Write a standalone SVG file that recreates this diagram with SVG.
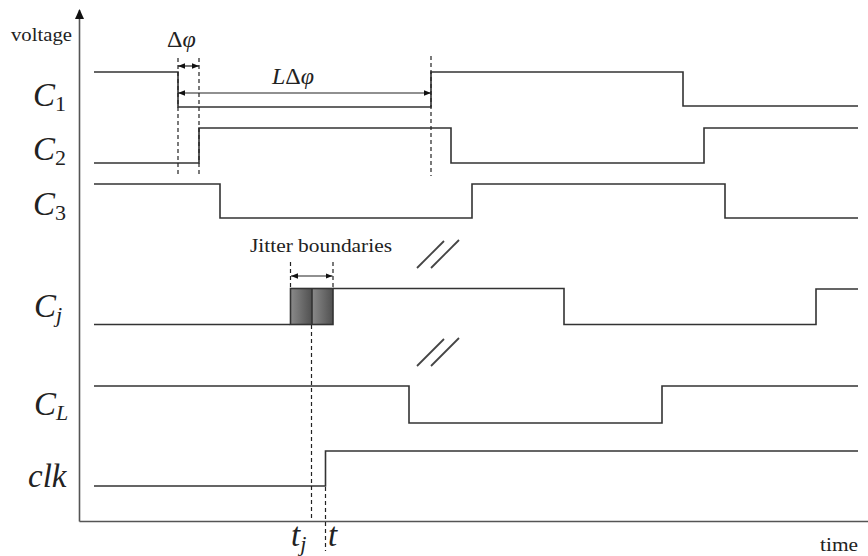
<svg xmlns="http://www.w3.org/2000/svg" width="868" height="556" viewBox="0 0 868 556">
<style>
.w{fill:none;stroke:#333;stroke-width:1.6}
.ax{fill:none;stroke:#555;stroke-width:1.6}
.d{fill:none;stroke:#222;stroke-width:1.2;stroke-dasharray:4,3}
.a{fill:none;stroke:#222;stroke-width:1.2}
.h{fill:none;stroke:#444;stroke-width:1.8}
.lbl{font-family:"Liberation Serif",serif;font-style:italic;font-size:33px;fill:#222}
.sub{font-style:normal;font-size:22px}
.subi{font-style:italic;font-size:22px}
.txt{font-family:"Liberation Serif",serif;font-size:18px;fill:#222}
.m{font-family:"Liberation Serif",serif;font-size:24px;fill:#222}
</style>
<defs>
<marker id="ah" viewBox="0 0 10 10" refX="10" refY="5" markerWidth="7" markerHeight="7" orient="auto-start-reverse" markerUnits="userSpaceOnUse">
<path d="M0,1 L10,5 L0,9 Z" fill="#111"/>
</marker>
<linearGradient id="g" x1="0" y1="0" x2="1" y2="0">
<stop offset="0" stop-color="#8a8a8a"/>
<stop offset="1" stop-color="#505050"/>
</linearGradient>
</defs>

<g id="axes">
<line class="ax" x1="79.5" y1="521.5" x2="79.5" y2="10"/>
<path d="M75,19 L79.5,9 L84,19 Z" fill="#111"/>
<line class="ax" x1="79.5" y1="521.5" x2="868" y2="521.5"/>
<text class="txt" x="11" y="41" textLength="61" lengthAdjust="spacingAndGlyphs">voltage</text>
<text class="txt" x="820" y="551" textLength="38" lengthAdjust="spacingAndGlyphs">time</text>
</g>

<g id="labels">
<text class="lbl" x="33" y="106">C<tspan class="sub" dy="5">1</tspan></text>
<text class="lbl" x="33" y="160">C<tspan class="sub" dy="5">2</tspan></text>
<text class="lbl" x="33" y="215">C<tspan class="sub" dy="5">3</tspan></text>
<text class="lbl" x="34" y="317">C<tspan class="subi" dy="5">j</tspan></text>
<text class="lbl" x="34" y="415">C<tspan class="subi" dy="5">L</tspan></text>
<text class="lbl" x="28" y="487">clk</text>
</g>

<g id="C1">
<polyline class="w" points="94,72 178,72 178,107 431,107 431,72 683,72 683,106 858,106"/>
</g>
<g id="C2">
<polyline class="w" points="94,163 199,163 199,128 451,128 451,163 704,163 704,128 858,128"/>
</g>
<g id="C3">
<polyline class="w" points="94,184 220,184 220,218 472,218 472,184 725,184 725,218 858,218"/>
</g>
<g id="Cj">
<polyline class="w" points="94,324.5 290,324.5"/>
<rect x="290.5" y="288.5" width="21.5" height="36" fill="url(#g)"/>
<rect x="312" y="288.5" width="21" height="36" fill="url(#g)"/>
<rect x="290.5" y="288.5" width="42.5" height="36" class="w"/>
<line class="w" x1="312" y1="288.5" x2="312" y2="324.5"/>
<polyline class="w" points="333,288.5 564,288.5 564,324.5 816,324.5 816,289 858,289"/>
</g>
<g id="CL">
<polyline class="w" points="94,386 409,386 409,423 662,423 662,386 858,386"/>
</g>
<g id="clk">
<polyline class="w" points="94,486 325.5,486 325.5,451 858,451"/>
</g>

<g id="connectors">
<line class="d" x1="178" y1="58" x2="178" y2="176"/>
<line class="d" x1="199" y1="58" x2="199" y2="176"/>
<line class="d" x1="431" y1="56" x2="431" y2="176"/>
<line class="a" x1="178" y1="66" x2="199" y2="66" marker-start="url(#ah)" marker-end="url(#ah)"/>
<line class="a" x1="178" y1="93" x2="431" y2="93" marker-start="url(#ah)" marker-end="url(#ah)"/>
<line class="d" x1="290.5" y1="262" x2="290.5" y2="288"/>
<line class="d" x1="333" y1="262" x2="333" y2="288"/>
<line class="a" x1="291" y1="276" x2="332.5" y2="276" marker-start="url(#ah)" marker-end="url(#ah)"/>
<line class="d" x1="311.5" y1="325" x2="311.5" y2="521"/>
<line class="d" x1="325.5" y1="487" x2="325.5" y2="551"/>
<line class="h" x1="417" y1="268" x2="444" y2="241"/>
<line class="h" x1="431" y1="268" x2="459" y2="240"/>
<line class="h" x1="417" y1="366" x2="444" y2="339"/>
<line class="h" x1="431" y1="366" x2="459" y2="338"/>
</g>

<g id="annotations">
<text class="m" x="167" y="47">Δ<tspan font-style="italic">φ</tspan></text>
<text class="m" x="272" y="84" font-size="26"><tspan font-style="italic">L</tspan>Δ<tspan font-style="italic">φ</tspan></text>
<text class="txt" x="250" y="252" font-size="19" textLength="142" lengthAdjust="spacingAndGlyphs">Jitter boundaries</text>
<text class="lbl" x="291" y="546" font-size="31">t<tspan class="subi" dy="5">j</tspan></text>
<text class="lbl" x="328" y="546" font-size="31">t</text>
</g>
</svg>
